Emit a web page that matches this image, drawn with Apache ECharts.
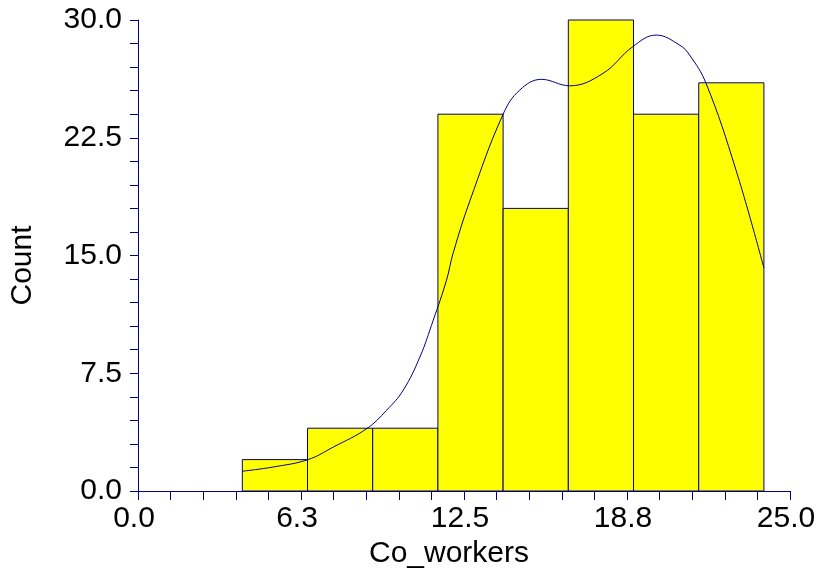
<!DOCTYPE html>
<html>
<head>
<meta charset="utf-8">
<script src="https://cdn.jsdelivr.net/npm/echarts@6/dist/echarts.min.js"></script>
<style>
  html, body { margin: 0; padding: 0; background: #ffffff; }
  #chart { width: 820px; height: 574px; }
</style>
</head>
<body>
<div id="chart"></div>
<script>
// Histogram bins (lower and upper edges) and their counts
const binStarts = [4, 6.5, 9, 11.5, 14, 16.5, 19, 21.5];
const binEnds   = [6.5, 9, 11.5, 14, 16.5, 19, 21.5, 24];
const counts    = [2, 4, 4, 24, 18, 30, 24, 26];

// Smoothed density curve, scaled to counts
const curveX = [4.0, 5.19, 6.52, 7.49, 8.77, 9.53, 10.17, 10.81, 11.32, 11.83, 12.08, 12.73,
                14.0, 14.64, 15.47, 16.55, 17.83, 18.97, 19.87, 20.77, 21.15, 21.78, 22.93, 24.0];
const curveY = [1.26, 1.53, 2.0, 2.8, 3.97, 5.14, 6.42, 8.54, 10.88, 13.43, 15.13, 18.5,
                24.0, 25.54, 26.22, 25.81, 26.6, 28.3, 29.04, 28.4, 27.77, 25.97, 20.44, 14.2];

// Axis tick labels
const xTickLabels = ['0.0', '6.3', '12.5', '18.8', '25.0'];
const yTickLabels = ['0.0', '7.5', '15.0', '22.5', '30.0'];

const NAVY = '#000080';
const FONT = 'Liberation Sans, Arial, sans-serif';

const chart = echarts.init(document.getElementById('chart'), null, { renderer: 'canvas' });

const barData = binStarts.map((s, i) => [s, binEnds[i], counts[i]]);
const curveData = curveX.map((x, i) => [x, curveY[i]]);

const axisCommon = {
  type: 'value',
  axisLine: { show: true, onZero: false, lineStyle: { color: NAVY, width: 1 } },
  axisTick: { show: true, inside: false, lineStyle: { color: NAVY, width: 1 } },
  minorTick: { show: true, splitNumber: 5, lineStyle: { color: NAVY, width: 1 } },
  splitLine: { show: false },
  minorSplitLine: { show: false }
};

chart.setOption({
  animation: false,
  backgroundColor: '#ffffff',
  grid: { left: 138, right: 30, top: 20, bottom: 83, containLabel: false, outerBoundsMode: 'none' },
  xAxis: Object.assign({}, axisCommon, {
    min: 0, max: 25, interval: 6.25,
    axisTick: Object.assign({}, axisCommon.axisTick, { length: 9 }),
    minorTick: Object.assign({}, axisCommon.minorTick, { length: 9 }),
    axisLabel: {
      color: '#000000', fontFamily: FONT, fontSize: 30, margin: 13,
      padding: [0, 8, 0, 0],
      formatter: (v) => xTickLabels[Math.round(v / 6.25)]
    },
    name: 'Co_workers',
    nameLocation: 'middle',
    nameGap: 47,
    nameTextStyle: { color: '#000000', fontFamily: FONT, fontSize: 30, padding: [0, 30, 0, 0] }
  }),
  yAxis: Object.assign({}, axisCommon, {
    min: 0, max: 30, interval: 7.5,
    axisTick: Object.assign({}, axisCommon.axisTick, { length: 8 }),
    minorTick: Object.assign({}, axisCommon.minorTick, { length: 8 }),
    axisLabel: {
      color: '#000000', fontFamily: FONT, fontSize: 30, margin: 16,
      formatter: (v) => yTickLabels[Math.round(v / 7.5)]
    },
    name: 'Count',
    nameLocation: 'middle',
    nameGap: 100,
    nameRotate: 90,
    nameTextStyle: { color: '#000000', fontFamily: FONT, fontSize: 30, padding: [0, 20, 0, 0] }
  }),
  series: [
    {
      type: 'custom',
      name: 'Count',
      data: barData,
      encode: { x: [0, 1], y: 2 },
      renderItem: function (params, api) {
        const p0 = api.coord([api.value(0), 0]);
        const p1 = api.coord([api.value(1), api.value(2)]);
        return {
          type: 'rect',
          shape: { x: p0[0], y: p1[1], width: p1[0] - p0[0], height: p0[1] - p1[1] },
          style: { fill: '#ffff00', stroke: NAVY, lineWidth: 1 }
        };
      },
      z: 2
    },
    {
      type: 'line',
      name: 'Density',
      data: curveData,
      smooth: 0.4,
      showSymbol: false,
      symbol: 'none',
      lineStyle: { color: NAVY, width: 1 },
      z: 3
    }
  ]
});
</script>
</body>
</html>
